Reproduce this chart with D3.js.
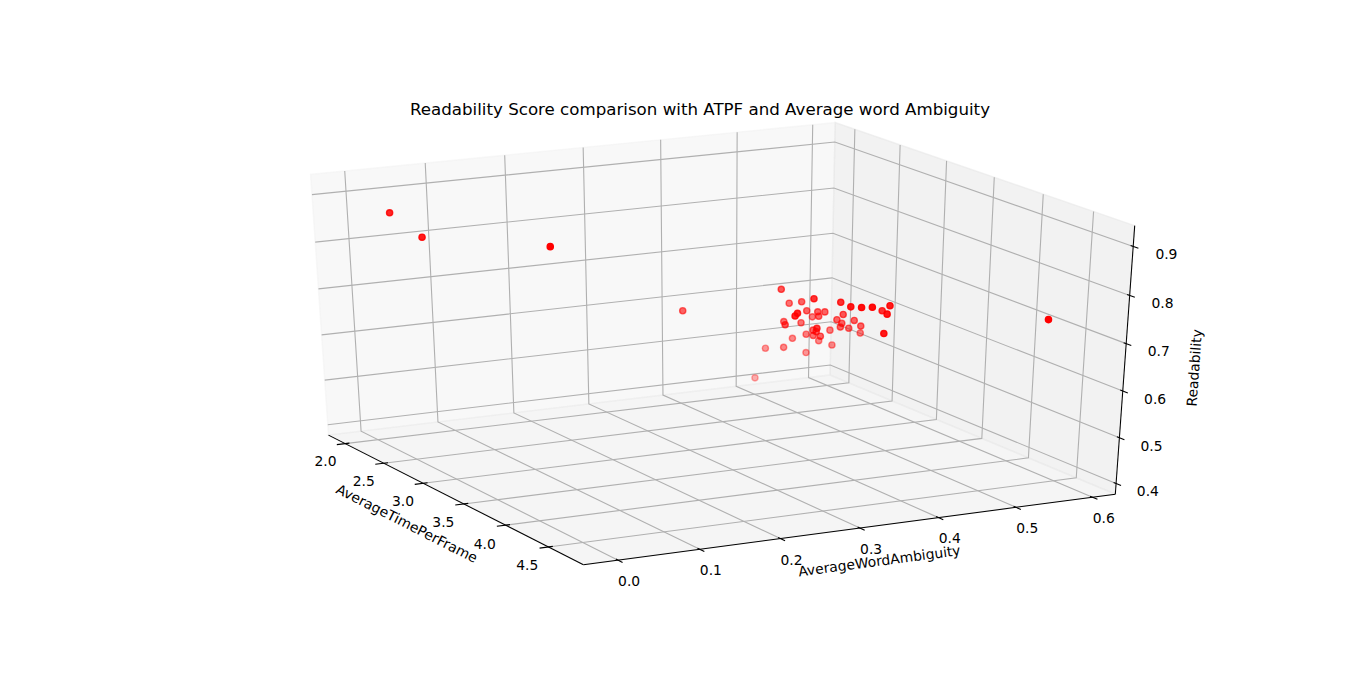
<!DOCTYPE html>
<html>
<head>
<meta charset="utf-8">
<script src="https://cdn.jsdelivr.net/npm/d3@7"></script>
<style>
body { margin: 0; background: #fff; }
text { font-family: "DejaVu Sans", sans-serif; fill: #000; }
</style>
</head>
<body>
<script>
'use strict'
// values
const atpf = [2.85, 2.59, 2.79, 3.46, 3.54, 3.89, 4.07, 4.10, 3.67, 3.98,
    4.01, 2.84, 3.64, 3.64, 2.87, 2.89, 2.54, 2.89, 3.11, 2.95,
    3.00, 2.66, 3.01, 2.71, 2.99, 2.98, 2.85, 3.04, 2.73, 4.08,
    3.43, 2.94, 2.95, 2.98, 2.79, 2.60, 2.64, 2.41, 2.49, 2.54,
    2.43, 2.21, 2.33, 1.96, 2.24, 2.58, 3.24, 2.53, 4.71];
const ambiguity = [0.436, 0.477, 0.470, 0.407, 0.432, 0.403, 0.395, 0.405, 0.470, 0.442,
    0.435, 0.471, 0.365, 0.362, 0.482, 0.489, 0.514, 0.481, 0.487, 0.498,
    0.515, 0.462, 0.423, 0.479, 0.498, 0.501, 0.526, 0.519, 0.556, 0.423,
    0.415, 0.468, 0.471, 0.473, 0.486, 0.499, 0.526, 0.503, 0.529, 0.541,
    0.489, 0.490, 0.531, 0.505, 0.008, 0.013, 0.102, 0.344, 0.553];
const readability = [0.692, 0.634, 0.654, 0.724, 0.718, 0.741, 0.755, 0.756, 0.703, 0.743,
    0.729, 0.638, 0.715, 0.710, 0.636, 0.636, 0.593, 0.628, 0.648, 0.622,
    0.621, 0.602, 0.630, 0.600, 0.609, 0.616, 0.590, 0.611, 0.564, 0.696,
    0.657, 0.604, 0.601, 0.593, 0.577, 0.562, 0.569, 0.537, 0.533, 0.525,
    0.521, 0.501, 0.493, 0.410, 0.886, 0.859, 0.872, 0.638, 0.750];

const xTicks = [2.0, 2.5, 3.0, 3.5, 4.0, 4.5];
const yTicks = [0.0, 0.1, 0.2, 0.3, 0.4, 0.5, 0.6];
const zTicks = [0.4, 0.5, 0.6, 0.7, 0.8, 0.9];
const xLim = [1.8415, 4.8364];
const yLim = [-0.0286, 0.6166];
const zLim = [0.3878, 0.9306];

const width = 1366;
const height = 679;
const elev = 26.39, azim = -27.65, dist = 10;
const pad = 1 / 48;          // drawn box sticks out a bit past the limits
const tickFont = 13.89, titleFont = 16.67;

// camera (same maths as mplot3d)
const rad = Math.PI / 180;
const dot = (a, b) => a[0] * b[0] + a[1] * b[1] + a[2] * b[2];
const cross = (a, b) => [a[1] * b[2] - a[2] * b[1], a[2] * b[0] - a[0] * b[2], a[0] * b[1] - a[1] * b[0]];
const unit = a => { const l = Math.hypot(a[0], a[1], a[2]); return a.map(v => v / l); };
const eye = [0.5 + Math.cos(azim * rad) * Math.cos(elev * rad) * dist,
    0.5 + Math.sin(azim * rad) * Math.cos(elev * rad) * dist,
    0.5 + Math.sin(elev * rad) * dist];
const nv = unit(eye.map(v => v - 0.5));
const uv = unit(cross([0, 0, 1], nv));
const vv = cross(nv, uv);

// 2d view limits of the 3d axes mapped onto the axes box
const sx = d3.scaleLinear().domain([-0.095, 0.09]).range([170.65, 1229.42]);
const sy = d3.scaleLinear().domain([-0.095, 0.09]).range([604.04, 79.83]);
const nx = d3.scaleLinear().domain(xLim).range([0, 1]);
const ny = d3.scaleLinear().domain(yLim).range([0, 1]);
const nz = d3.scaleLinear().domain(zLim).range([0, 1]);

function project(p) {
    const d = [p[0] - eye[0], p[1] - eye[1], p[2] - eye[2]];
    const w = -dot(nv, d);
    return [sx(dot(uv, d) / w), sy(dot(vv, d) / w), -dist / w];
}
const line = d3.line();
const path = pts => line(pts.map(p => project(p).slice(0, 2)));

const svg = d3.select("body")
    .append("svg")
    .attr("width", width)
    .attr("height", height);

svg.append("rect")
    .attr("width", width)
    .attr("height", height)
    .attr("fill", "#fff");

const lo = -pad, hi = 1 + pad;

// panes
const panes = [
    { pts: [[lo, lo, lo], [lo, hi, lo], [lo, hi, hi], [lo, lo, hi]], c: "rgb(242,242,242)" },
    { pts: [[lo, hi, lo], [hi, hi, lo], [hi, hi, hi], [lo, hi, hi]], c: "rgb(230,230,230)" },
    { pts: [[lo, lo, lo], [hi, lo, lo], [hi, hi, lo], [lo, hi, lo]], c: "rgb(236,236,236)" }
];
svg.selectAll("path.pane")
    .data(panes)
    .enter()
    .append("path")
    .attr("class", "pane")
    .attr("d", d => path(d.pts) + "Z")
    .attr("fill", d => d.c)
    .attr("stroke", d => d.c)
    .attr("stroke-width", 1.39)
    .attr("fill-opacity", 0.5)
    .attr("stroke-opacity", 0.5);

const axes = [
    {
        ticks: xTicks, scale: nx, label: "AverageTimePerFrame",
        grid: t => [[t, lo, lo], [t, hi, lo], [t, hi, hi]],
        at: t => [t, lo, lo],
        tickEnds: [[0, 0.1 / 12, 0], [0, -0.2 / 12, 0]],
        away: [0, -1, -1],
        edge: [[lo, lo, lo], [hi, lo, lo]]
    },
    {
        ticks: yTicks, scale: ny, label: "AverageWordAmbiguity",
        grid: t => [[lo, t, hi], [lo, t, lo], [hi, t, lo]],
        at: t => [hi, t, lo],
        tickEnds: [[-0.1 / 12, 0, 0], [0.2 / 12, 0, 0]],
        away: [1, 0, -1],
        edge: [[hi, lo, lo], [hi, hi, lo]]
    },
    {
        ticks: zTicks, scale: nz, label: "Readability",
        grid: t => [[hi, hi, t], [lo, hi, t], [lo, lo, t]],
        at: t => [hi, hi, t],
        tickEnds: [[-0.1 / 12, 0, 0], [0.2 / 12, 0, 0]],
        away: [1, 1, 0],
        edge: [[hi, hi, lo], [hi, hi, hi]]
    }
];

const add = (p, q, k) => [p[0] + q[0] * k, p[1] + q[1] * k, p[2] + q[2] * k];
const fmt = d3.format(".1f");
const tickShift = 11.5 * 0.042155 / 12;   // (pad + 8pt) in box units
const labelShift = 25 * 0.042155 / 12;    // (labelpad + 21pt) in box units

axes.forEach(ax => {
    const g = svg.append("g");
    g.selectAll("path.grid")
        .data(ax.ticks)
        .enter()
        .append("path")
        .attr("d", d => path(ax.grid(ax.scale(d))))
        .attr("fill", "none")
        .attr("stroke", "#b0b0b0")
        .attr("stroke-width", 1.11);

    g.append("path")
        .attr("d", path(ax.edge))
        .attr("stroke", "#000")
        .attr("stroke-width", 1.04);

    g.selectAll("path.tick")
        .data(ax.ticks)
        .enter()
        .append("path")
        .attr("d", d => {
            const p = ax.at(ax.scale(d));
            return path([add(p, ax.tickEnds[0], 1), add(p, ax.tickEnds[1], 1)]);
        })
        .attr("stroke", "#000")
        .attr("stroke-width", 1.11);

    g.selectAll("text.ticklabel")
        .data(ax.ticks)
        .enter()
        .append("text")
        .text(d => fmt(d))
        .attr("x", d => project(add(ax.at(ax.scale(d)), ax.away, tickShift))[0])
        .attr("y", d => project(add(ax.at(ax.scale(d)), ax.away, tickShift))[1])
        .attr("dy", "0.76em")
        .attr("font-size", tickFont)
        .attr("text-anchor", "middle");

    const a = project(ax.edge[0]), b = project(ax.edge[1]);
    let ang = Math.atan2(a[1] - b[1], b[0] - a[0]) / rad;
    ang = (ang + 180) % 180;
    if (ang > 90) ang -= 180;
    const mid = project(add([(ax.edge[0][0] + ax.edge[1][0]) / 2, (ax.edge[0][1] + ax.edge[1][1]) / 2,
        (ax.edge[0][2] + ax.edge[1][2]) / 2], ax.away, labelShift));
    g.append("text")
        .text(ax.label)
        .attr("transform", "translate(" + mid[0] + "," + mid[1] + ") rotate(" + (-ang) + ")")
        .attr("dy", "0.26em")
        .attr("font-size", tickFont)
        .attr("text-anchor", "middle");
});

// scatter, faded with depth
const points = atpf.map((x, i) => {
    const p = project([nx(x), ny(ambiguity[i]), nz(readability[i])]);
    return { px: p[0], py: p[1], zs: p[2] };
});
const shade = d3.scaleLinear()
    .domain(d3.extent(points, d => d.zs))
    .range([1, 0.3]);

svg.append("g")
    .selectAll("circle")
    .data(points)
    .enter()
    .append("circle")
    .attr("cx", d => d.px)
    .attr("cy", d => d.py)
    .attr("r", 3.1)
    .attr("fill", "red")
    .attr("stroke", "red")
    .attr("stroke-width", 1.39)
    .attr("fill-opacity", d => shade(d.zs))
    .attr("stroke-opacity", d => shade(d.zs));

svg.append("text")
    .text("Readability Score comparison with ATPF and Average word Ambiguity")
    .attr("x", 700)
    .attr("y", 115)
    .attr("font-size", titleFont)
    .attr("text-anchor", "middle");
</script>
</body>
</html>
